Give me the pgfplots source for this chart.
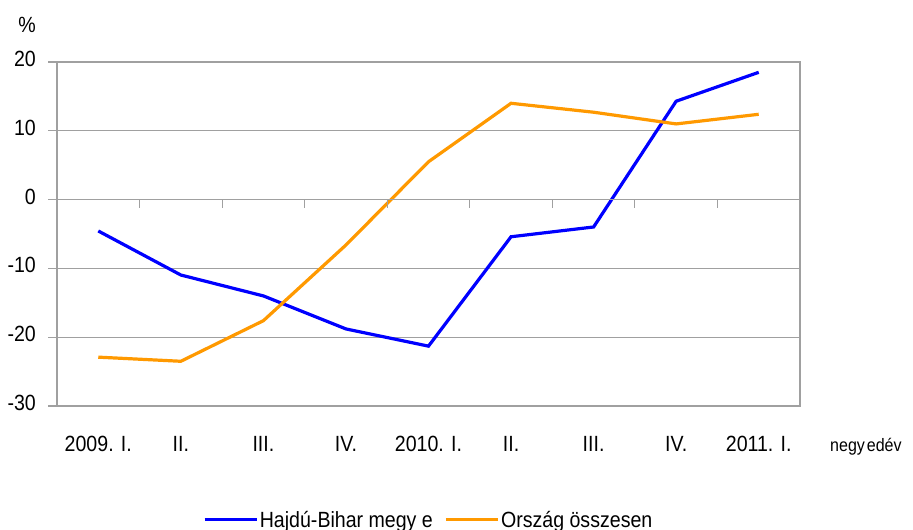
\documentclass[border=0pt]{standalone}
\usepackage{pgfplots}
\pgfplotsset{compat=1.18}
\usepackage{fontspec}
\setmainfont{Liberation Sans}[FakeStretch=0.89]
\newcommand\myfont{\fontsize{22bp}{26bp}\selectfont}
\definecolor{hbblue}{HTML}{0000FF}
\definecolor{orsz}{HTML}{FF9900}
\definecolor{axgray}{HTML}{A0A0A0}
\begin{document}
\begin{tikzpicture}[font=\myfont]
\begin{axis}[
  at={(57bp,124bp)}, anchor=south west,
  width=743bp, height=344bp, scale only axis,
  xmin=-0.5, xmax=8.5, ymin=-30, ymax=20,
  axis line style={axgray, line width=1.2bp},
  xtick={0,...,8},
  xticklabels={2009. I.,II.,III.,IV.,2010. I.,II.,III.,IV.,2011. I.},
  xtick style={draw=none},
  xticklabel style={inner sep=0pt, anchor=north, yshift=-21bp},
  ytick={-30,-20,...,20},
  yticklabels={-30,-20,-10,0,10,20},
  ytick pos=left,
  tick align=outside,
  major tick length=9bp,
  ytick style={axgray, line width=1.2bp},
  yticklabel style={inner sep=0pt, xshift=-12bp, yshift=3bp},
  ymajorgrids,
  grid style={axgray, line width=1.2bp},
  legend style={draw=none, fill=none, legend columns=2,
    at={(0.5,-0.331)}, anchor=center,
    /tikz/every even column/.append style={column sep=10bp},
    nodes={inner sep=1.5bp, font=\myfont}},
  legend image code/.code={\draw[#1] (0bp,0bp) -- (52bp,0bp);},
]
\addplot[hbblue, line width=3.2bp] coordinates {
(0,-4.56) (1,-10.96) (2,-14.0) (3,-18.8) (4,-21.3) (5,-5.4) (6,-3.98) (7,14.3) (8,18.5)};
\addlegendentry{Hajdú-Bihar megy e}
\addplot[orsz, line width=3.2bp] coordinates {
(0,-22.9) (1,-23.5) (2,-17.6) (3,-6.6) (4,5.5) (5,14.0) (6,12.7) (7,11.0) (8,12.4)};
\addlegendentry{Ország összesen}
\end{axis}
\begin{axis}[
  at={(57bp,124bp)}, anchor=south west,
  width=743bp, height=344bp, scale only axis,
  xmin=-0.5, xmax=8.5, ymin=-30, ymax=20,
  axis x line=middle, axis y line=none,
  axis line style={-, axgray, line width=1.2bp},
  xtick={0.5,1.5,...,7.5}, xticklabels={},
  tick align=outside, major tick length=8bp,
  xtick style={axgray, line width=1.2bp},
]
\end{axis}
\node[anchor=base east, inner sep=0pt] at (36bp,497bp) {\%};
\node[anchor=base west, inner sep=0pt, font=\fontsize{18bp}{22bp}\selectfont] at (830bp,78bp) {negy\hspace{2bp}edév};
\pgfresetboundingbox
\path (0,0) rectangle (913bp,530bp);
\end{tikzpicture}
\end{document}
